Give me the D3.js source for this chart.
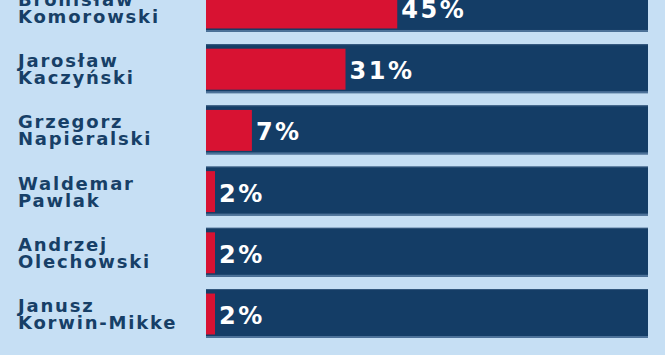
<!DOCTYPE html>
<html>
<head>
<meta charset="utf-8">
<script src="https://cdn.jsdelivr.net/npm/d3@7"></script>
<style>
  html, body { margin: 0; padding: 0; background: #c6dff4; overflow: hidden; }
  svg { display: block; }
</style>
</head>
<body>
<svg id="chart" width="665" height="355"></svg>
<script>
// Candidates (first name, surname)
const firstNames = ["Bronisław", "Jarosław", "Grzegorz", "Waldemar", "Andrzej", "Janusz"];
const lastNames  = ["Komorowski", "Kaczyński", "Napieralski", "Pawlak", "Olechowski", "Korwin-Mikke"];
// Printed percentages
const valueLabels = ["45%", "31%", "7%", "2%", "2%", "2%"];
// Bar lengths as drawn in the picture (percent of the full track)
const barValues = [42.5, 31, 10.2, 2, 2, 2];

const svg = d3.select("#chart");
const W = 665, H = 355;

svg.append("rect").attr("width", W).attr("height", H).attr("fill", "#c6dff4");

const ids = d3.range(firstNames.length);

const y = d3.scaleBand()
  .domain(ids)
  .range([-17, 338])
  .paddingInner(0.2)
  .paddingOuter(0);

const x = d3.scaleLinear().domain([0, 100]).range([206, 656]);
const trackEnd = 648;

const g = svg.append("g");
const rows = g.selectAll("g.row").data(ids).join("g").attr("class", "row");

// navy track
rows.append("rect")
  .attr("x", x(0))
  .attr("y", d => y(d))
  .attr("width", trackEnd - x(0))
  .attr("height", y.bandwidth())
  .attr("fill", "#143d66");
// lighter edge lines
rows.append("rect")
  .attr("x", x(0))
  .attr("y", d => y(d) + y.bandwidth() - 2)
  .attr("width", trackEnd - x(0))
  .attr("height", 2)
  .attr("fill", "#4d7299");
rows.append("rect")
  .attr("x", x(0))
  .attr("y", d => y(d))
  .attr("width", trackEnd - x(0))
  .attr("height", 1)
  .attr("fill", "#35597f");

// red bar
rows.append("rect")
  .attr("x", x(0))
  .attr("y", d => y(d) + 4.5)
  .attr("width", d => x(barValues[d]) - x(0))
  .attr("height", y.bandwidth() - 8)
  .attr("fill", "#d81232");

// value labels
rows.append("text")
  .attr("x", d => x(barValues[d]) + 4)
  .attr("y", d => y(d) + y.bandwidth() / 2 + 10.5)
  .attr("fill", "#ffffff")
  .style("font-family", "'DejaVu Sans', Verdana, sans-serif")
  .style("font-weight", "bold")
  .style("font-size", "24px")
  .style("letter-spacing", "2.5px")
  .text(d => valueLabels[d]);

// name labels
const nameText = rows.append("text")
  .attr("fill", "#173f67")
  .style("font-family", "'DejaVu Sans', Verdana, sans-serif")
  .style("font-weight", "bold")
  .style("font-size", "18px")
  .style("letter-spacing", "1.8px");
nameText.append("tspan")
  .attr("x", 18)
  .attr("y", d => y(d) + y.bandwidth() / 2 - 1.5)
  .text(d => firstNames[d]);
nameText.append("tspan")
  .attr("x", 18)
  .attr("y", d => y(d) + y.bandwidth() / 2 + 15.5)
  .text(d => lastNames[d]);
</script>
</body>
</html>
